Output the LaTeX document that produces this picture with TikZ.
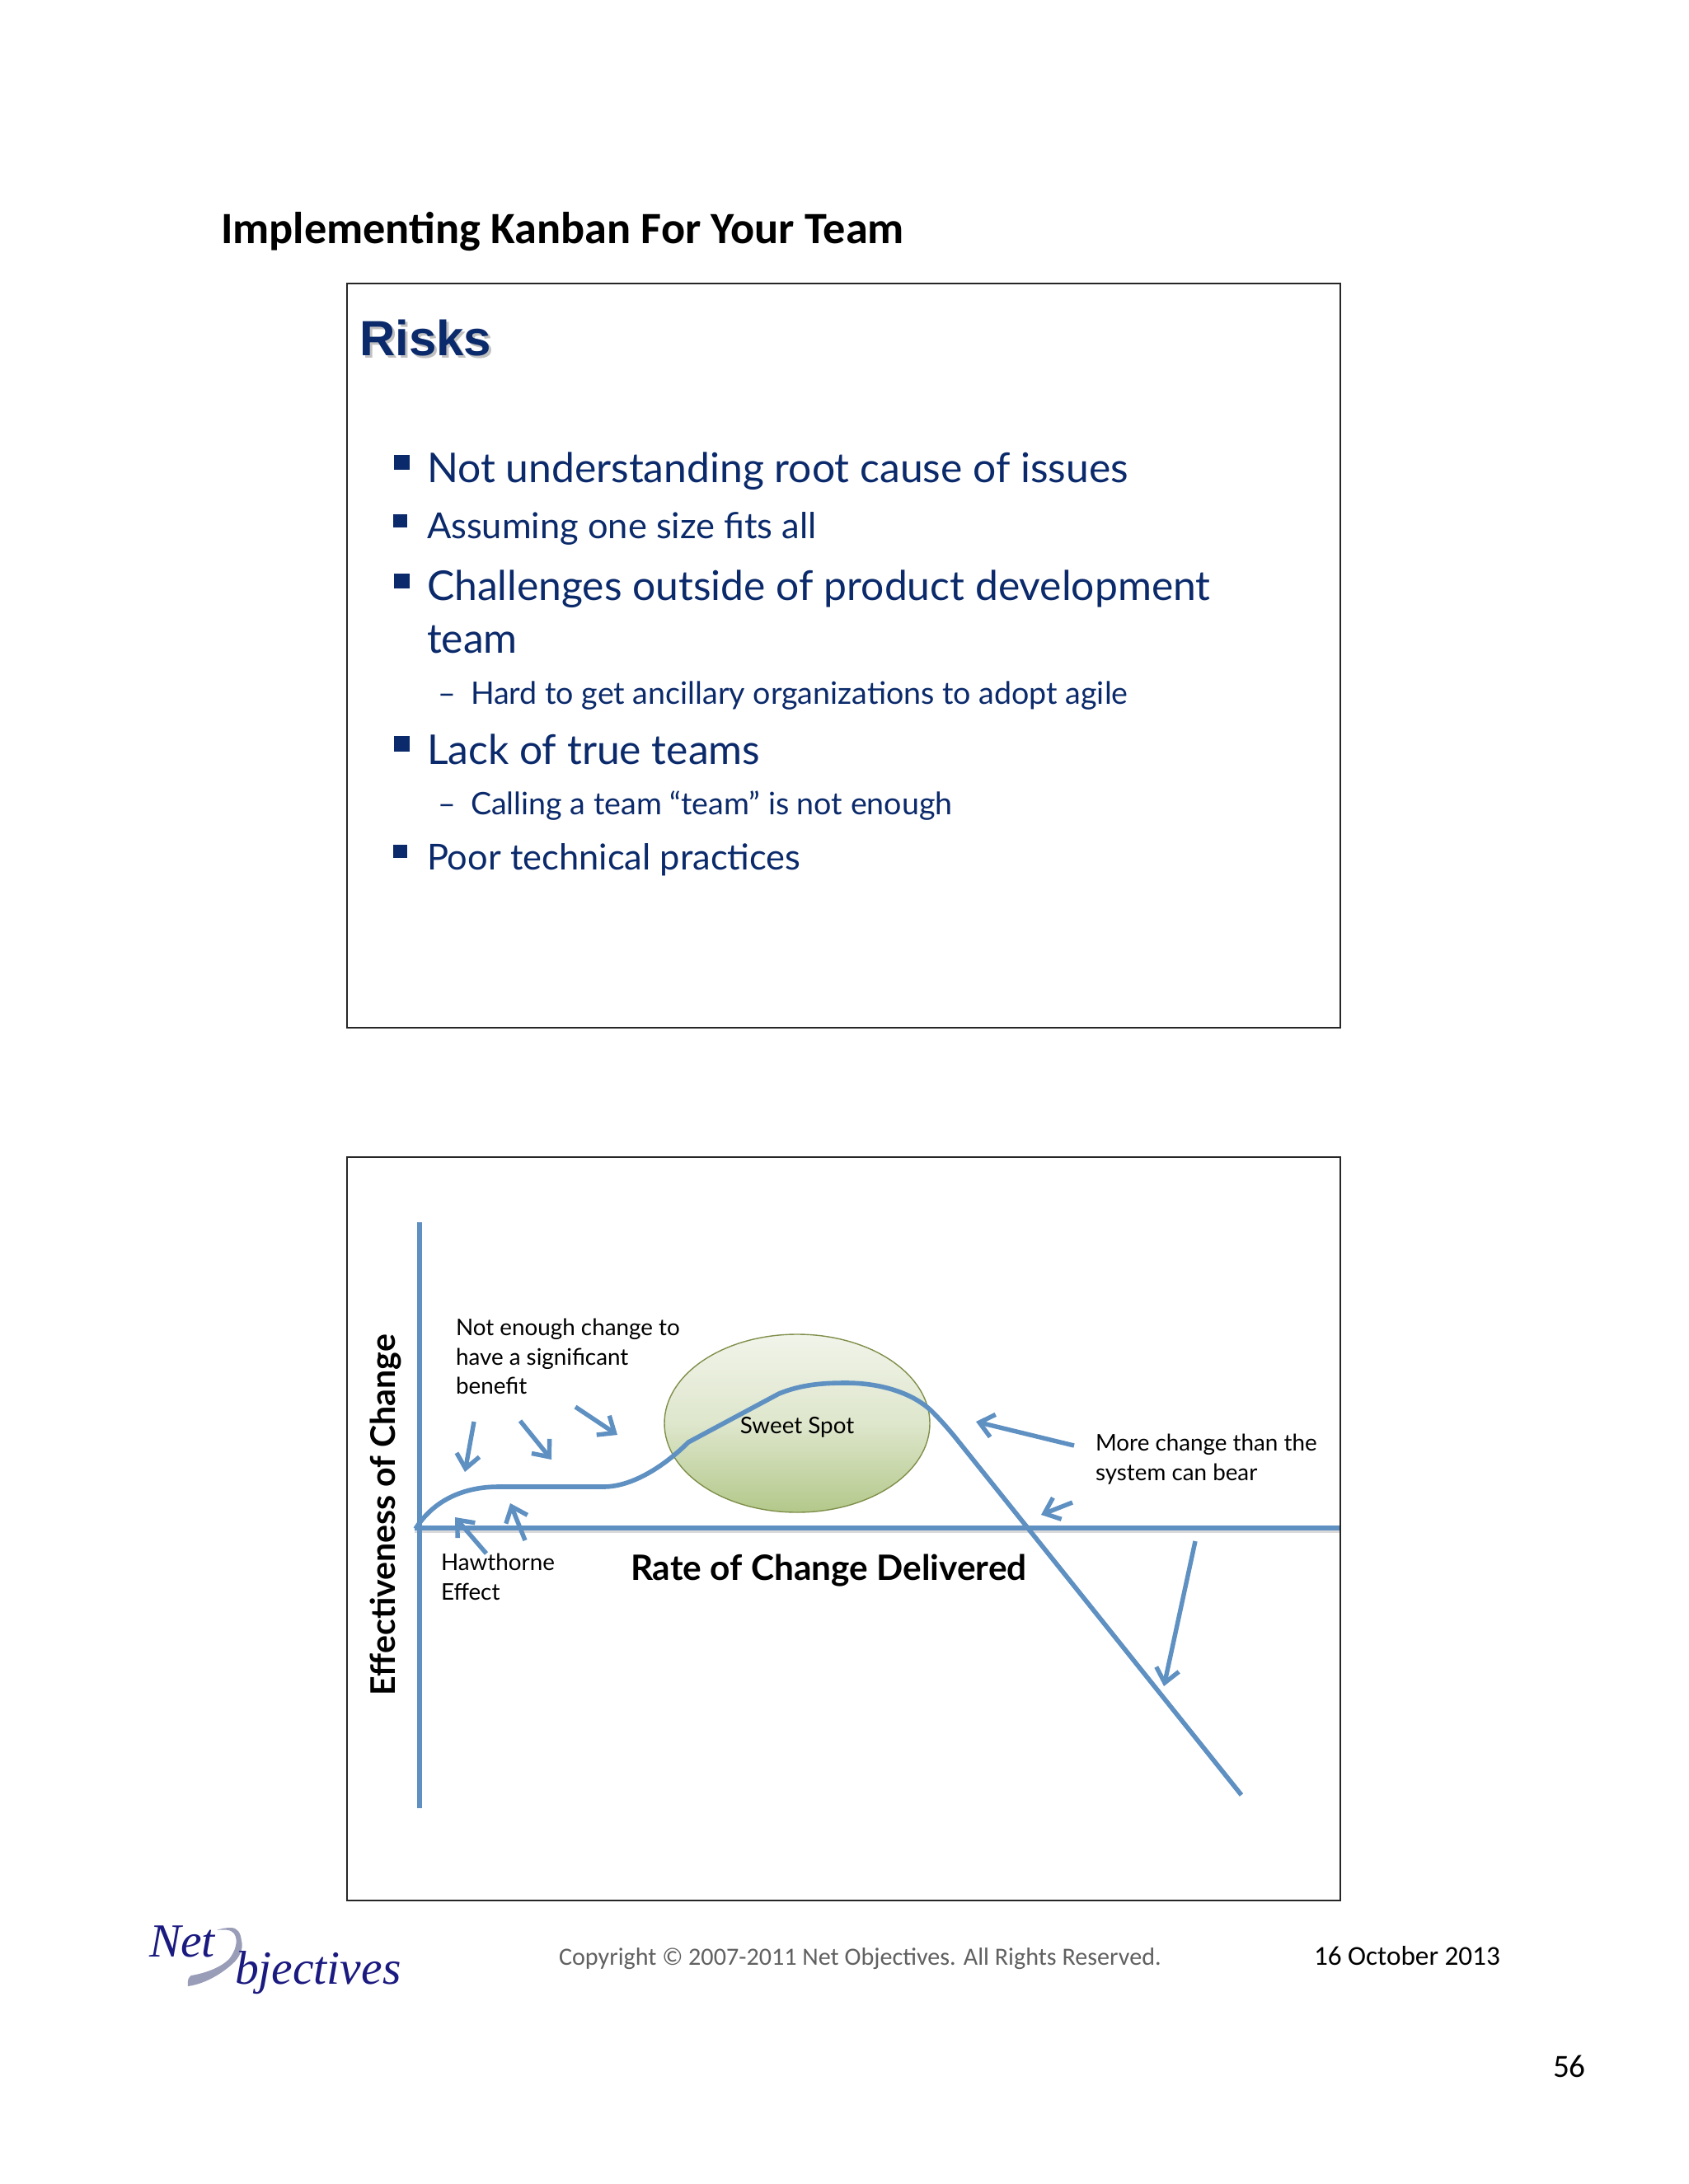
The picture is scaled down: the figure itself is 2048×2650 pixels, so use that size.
\documentclass[tikz,border=0pt]{standalone}
\usepackage{fontspec}
\setmainfont{Lato}
\newfontfamily\fCal{Carlito}
\newfontfamily\fSer{Liberation Serif}
\newfontfamily\fAri{Liberation Sans}
\usetikzlibrary{arrows.meta,shapes.geometric}
\definecolor{navy}{HTML}{0B2A6B}
\definecolor{lineblue}{HTML}{5F90C2}
\definecolor{logonavy}{HTML}{1B1A80}
\definecolor{swoosh}{HTML}{9A9DB8}
\definecolor{spottop}{HTML}{F1F4EA}
\definecolor{spotmid}{HTML}{DEE6CC}
\definecolor{spotbot}{HTML}{B3C88A}
\definecolor{spotedge}{HTML}{7F8F4A}
\newcommand{\fs}[1]{\fontsize{#1}{#1}\selectfont}
\tikzset{
  txt/.style={anchor=base west,inner sep=0pt,outer sep=0pt},
  big/.style={txt,text=navy,font=\fs{12.45}},
  mid/.style={txt,text=navy,font=\fs{10.85}},
  sub/.style={txt,text=navy,font=\fs{9.4}},
  lab/.style={anchor=north west,inner sep=0pt,outer sep=0pt,align=left,font=\fontsize{6.95}{8.9}\selectfont},
  hdg/.style={txt,font=\fs{10.6}\bfseries},
  frame/.style={draw=black!85,line width=0.5pt},
  bul/.style={fill=navy,draw=none},
  axis/.style={draw=lineblue,line width=1.4pt},
  curve/.style={draw=lineblue,line width=1.4pt,line join=round},
  shadow/.style={draw=black,opacity=0.15,line width=1.4pt},
  pt/.style={-{Straight Barb[length=4.2pt,width=7pt]},draw=lineblue,line width=1.35pt},
}
\begin{document}
\begin{tikzpicture}[x=0.25pt,y=-0.25pt]
\useasboundingbox (0,0) rectangle (2048,2650);
\fill[white] (0,0) rectangle (2048,2650);

% page header
\node[txt,font=\fCal\bfseries\fs{13.57}] (title) at (268,296) {Implementing Kanban For Your Team};

% top slide
\draw[frame] (421,344) rectangle (1626,1247);
\node[txt,font=\fAri\bfseries\fs{15},text=black!35,opacity=.7] (risksshadow) at (439,435) {Risks};
\node[txt,font=\fAri\bfseries\fs{15},text=navy] (risks) at (436,432) {Risks};
\fill[bul] (478,552) rectangle (497,570);
\node[big] (b1) at (518,586) {Not understanding root cause of issues};
\fill[bul] (477,624) rectangle (494,640);
\node[mid] (b2) at (518,654) {Assuming one size fits all};
\fill[bul] (478,696) rectangle (497,714);
\node[big] (b3) at (518,729) {Challenges outside of product development};
\node[big] (b3b) at (518,793) {team};
\node[sub] (d3) at (531,855) {–};
\node[sub] (s3) at (571,855) {Hard to get ancillary organizations to adopt agile};
\fill[bul] (478,893) rectangle (497,912);
\node[big] (b4) at (518,928) {Lack of true teams};
\node[sub] (d4) at (531,989) {–};
\node[sub] (s4) at (571,989) {Calling a team “team” is not enough};
\fill[bul] (477,1025) rectangle (494,1041);
\node[mid] (b5) at (518,1055) {Poor technical practices};

% bottom slide
\draw[frame] (421,1404) rectangle (1626,2306);
\node[ellipse,draw=spotedge,line width=0.35pt,minimum width=80.5pt,minimum height=54pt,inner sep=0pt,
      top color=spottop,bottom color=spotbot,middle color=spotmid,
      font=\fs{6.95}] (spot) at (967,1727) {\raisebox{0pt}[6.2pt][0pt]{Sweet Spot}};

\coordinate (ytop) at (509,1483);
\coordinate (ybot) at (509,2194);
\coordinate (xl) at (503,1854);
\coordinate (xr) at (1625,1854);
\draw[shadow] ([yshift=-0.8pt]xl) -- ([yshift=-0.8pt]xr);
\draw[axis] (ytop) -- (ybot);
\draw[axis] (xl) -- (xr);

\coordinate (c0) at (504,1855);
\coordinate (c1) at (605,1804);
\coordinate (c2) at (732,1804);
\coordinate (c3) at (835,1750);
\coordinate (c4) at (945,1691);
\coordinate (c5) at (1026,1678);
\coordinate (c6) at (1130,1712);
\coordinate (c7) at (1158,1743);
\coordinate (c8) at (1506,2178);
\draw[curve] (c0) .. controls (525,1822) and (560,1804) .. (c1) -- (c2)
  .. controls (770,1804) and (810,1775) .. (c3) -- (c4)
  .. controls (972,1680) and (998,1678) .. (c5)
  .. controls (1070,1678) and (1108,1691) .. (c6)
  .. controls (1141,1723) and (1148,1731) .. (c7) -- (c8);

\node[lab] (notenough) at (553,1600) {Not enough change to\\have a significant\\benefit};
\node[lab] (haw) at (535,1885) {Hawthorne\\Effect};
\node[lab] (more) at (1329,1740) {More change than the\\system can bear};
\node[hdg] (rate) at (765,1917) {Rate of Change Delivered};
\node[txt,rotate=90,font=\fs{10.27}\bfseries] (eff) at (479,2057) {Effectiveness of Change};

\coordinate (a1s) at (575,1725); \coordinate (a1e) at (564,1786);
\coordinate (a2s) at (631,1724); \coordinate (a2e) at (669,1771);
\coordinate (a3s) at (698,1707); \coordinate (a3e) at (749,1741);
\coordinate (a4s) at (637,1869); \coordinate (a4e) at (619,1824);
\coordinate (a5s) at (590,1885); \coordinate (a5e) at (552,1841);
\coordinate (a6s) at (1303,1754); \coordinate (a6e) at (1184,1725);
\coordinate (a7s) at (1301,1823); \coordinate (a7e) at (1263,1838);
\coordinate (a8s) at (1450,1870); \coordinate (a8e) at (1412,2046);
\foreach \n in {1,...,8} \draw[pt] (a\n s) -- (a\n e);

% footer
\fill[swoosh] (228,2410) .. controls (250,2407) and (272,2393) .. (285,2380)
  .. controls (293,2371) and (295,2362) .. (293,2355)
  .. controls (292,2345) and (288,2339) .. (280,2339)
  .. controls (274,2339) and (268,2340) .. (263,2342)
  .. controls (272,2341) and (280,2341) .. (284,2346)
  .. controls (290,2355) and (285,2368) .. (278,2377)
  .. controls (268,2387) and (250,2394) .. (232,2397)
  .. controls (229,2399) and (227,2402) .. (228,2410) -- cycle;
\node[txt,font=\fSer\itshape\fs{14.4},text=logonavy] (net) at (181,2374) {Net};
\node[txt,font=\fSer\itshape\fs{14.4},text=logonavy] (obj) at (285,2407) {bjectives};
\node[txt,font=\fCal\fs{7.53},text=black!62] (copy) at (678,2384) {Copyright © 2007-2011 Net Objectives. All Rights Reserved.};
\node[txt,font=\fCal\fs{8.3}] (date) at (1594,2384) {16 October 2013};
\node[txt,font=\fCal\fs{9.8}] (page) at (1884,2520) {56};
\end{tikzpicture}
\end{document}
